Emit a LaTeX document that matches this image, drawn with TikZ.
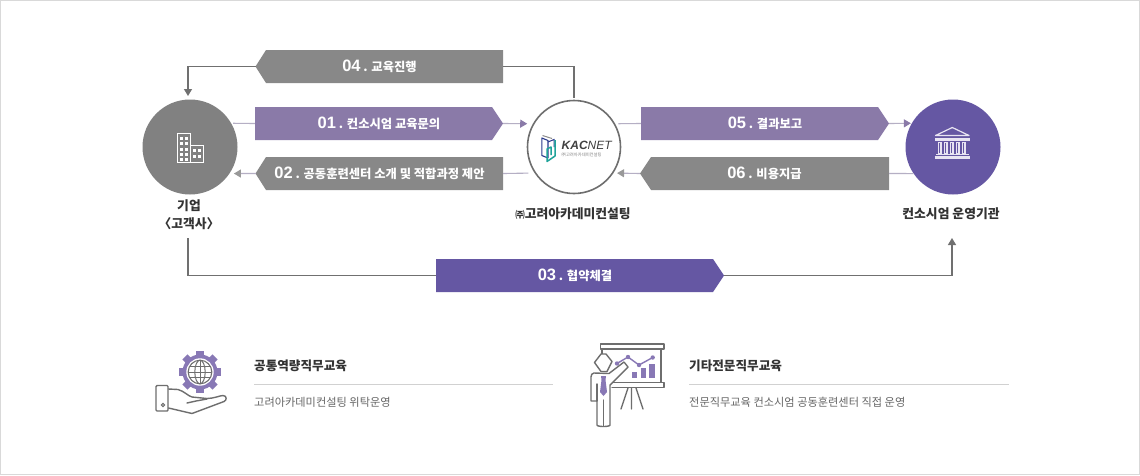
\documentclass[tikz,border=0pt]{standalone}
\usepackage{fontspec}
\setmainfont{Noto Sans CJK KR}
\newfontfamily\numfont{Liberation Sans}
\usetikzlibrary{arrows.meta,calc}
\definecolor{gbar}{HTML}{888888}
\definecolor{lil}{HTML}{8A7AA8}
\definecolor{deep}{HTML}{6557A3}
\definecolor{conn}{HTML}{B5AFC4}
\definecolor{dk}{HTML}{707070}
\definecolor{ico}{HTML}{6E6E6E}
\definecolor{icop}{HTML}{8878B5}
\definecolor{tw}{HTML}{E8E4F2}
\definecolor{lognavy}{HTML}{2B3A8C}
\definecolor{logteal}{HTML}{1FA39A}
\tikzset{
 banner/.style={inner sep=0pt,minimum width=#1,minimum height=33pt,text=white,font=\fontsize{12.3}{14}\selectfont\bfseries},
 thinline/.style={draw=conn,line width=1.1pt},
 gline/.style={draw=dk,line width=1.3pt},
 tipg/.style={-{Triangle[length=7pt,width=8pt]}},
 tipl/.style={-{Triangle[length=7pt,width=8pt,color=lil]}},
 tipa/.style={-{Triangle[length=7pt,width=8pt,color=gray!80]}},
 disc/.style={circle,minimum size=95pt,inner sep=0pt,outer sep=0pt},
 capt/.style={inner sep=0pt,text=black!80,align=center,font=\fontsize{12.8}{18}\selectfont\bfseries},
 htitle/.style={inner sep=0pt,anchor=west,text=black!80,font=\fontsize{12.6}{14}\selectfont\bfseries},
 hsub/.style={inner sep=0pt,anchor=west,text=black!60,font=\fontsize{11.2}{13}\selectfont},
 icoline/.style={draw=ico,line width=1.4pt,line join=round,line cap=round},
}
\newcommand{\nm}[1]{{\numfont\fontsize{16.5}{16}\selectfont\bfseries #1}}
\begin{document}
\begin{tikzpicture}[x=1pt,y=-1pt]
\useasboundingbox (0,0) rectangle (1140,475);
\draw[draw=black!15,fill=white,line width=1pt] (0.5,0.5) rectangle (1139.5,474.5);
% banners
\fill[gbar] (255.5,66.5)--(266,50)--(503,50)--(503,83)--(266,83)--cycle;
\fill[lil] (255,107)--(492,107)--(503,123.5)--(492,140)--(255,140)--cycle;
\fill[gbar] (255.5,173.5)--(266,157)--(503,157)--(503,190)--(266,190)--cycle;
\fill[lil] (641,107)--(878,107)--(889,123.5)--(878,140)--(641,140)--cycle;
\fill[gbar] (640,173.5)--(651,157)--(889,157)--(889,190)--(651,190)--cycle;
\fill[deep] (436,259)--(713,259)--(724,275.5)--(713,292)--(436,292)--cycle;
\node[banner=247pt] (b04) at (379.5,66.5) {\nm{04} . 교육진행};
\node[banner=248pt] (b01) at (379,123.5) {\nm{01} . 컨소시엄 교육문의};
\node[banner=247pt] (b02) at (379.5,173.5) {\nm{02} . 공동훈련센터 소개 및 적합과정 제안};
\node[banner=248pt] (b05) at (765,123.5) {\nm{05} . 결과보고};
\node[banner=249pt] (b06) at (764.5,173.5) {\nm{06} . 비용지급};
\node[banner=288pt] (b03) at (580,275.5) {\nm{03} . 협약체결\hspace*{10pt}};
% discs
\node[disc,fill=gbar!95!black] (c1) at (190,147) {};
\node[disc,draw=ico,line width=1.6pt,fill=white,minimum size=93pt] (c2) at (574,147) {};
\node[disc,fill=deep] (c3) at (953,147) {};
% captions
\node[capt] (t1) at (189,215) {기업\\〈고객사〉};
\node[capt] (t2) at (573,214) {{\fontsize{9.5}{10}\selectfont ㈜}고려아카데미컨설팅};
\node[capt] (t3) at (951,214) {컨소시엄 운영기관};
% connectors
\draw[thinline,shorten <=2pt] (c1.30) -- (b01.west);
\draw[thinline,tipl,shorten >=6.5pt] (b01.east) -- (c2.150);
\draw[thinline,shorten >=7pt] (b02.east) -- (c2.214);
\draw[thinline,tipa,shorten >=4.5pt] (b02.west) -- (c1.326);
\draw[thinline,shorten <=4pt] (c2.30) -- (b05.west);
\draw[thinline,tipl,shorten >=1pt] (b05.east) -- (c3.150);
\draw[thinline] (b06.east) -- (c3.214);
\draw[thinline,tipa,shorten >=4.5pt] (b06.west) -- (c2.326);
\coordinate (dn1) at (188,96);
\coordinate (up1) at (188,238);
\coordinate (up3) at (952,238);
\draw[gline,shorten <=3pt] (c2.north) |- (b04.east);
\draw[gline,tipg] (b04.west) -| (dn1);
\draw[gline] (up1) |- (b03.west);
\draw[gline,tipg] (b03.east) -| (up3);
% building icon
\draw[white,line width=1.1pt] (177.5,133.5) rectangle (190.5,162.5);
\draw[white,line width=1.1pt] (190.5,145.5) rectangle (203.5,162.5);
\foreach \y in {136.5,142,147.5,153,158.2} {\fill[white] (180,\y) rectangle +(3,3); \fill[white] (185,\y) rectangle +(3,3);}
\foreach \y in {149,154.5} {\fill[white] (193,\y) rectangle +(3.2,3); \fill[white] (198,\y) rectangle +(3.2,3);}
% temple icon
\draw[tw,line width=1.2pt,line join=round] (952.3,127.5)--(935.5,135.5)--(969,135.5)--cycle;
\fill[tw] (935,137.5) rectangle (969.5,140.5);
\foreach \x in {937.5,943.5,949.5,955.5,961.5} {\fill[tw] (\x,141.5) rectangle +(4,12); \fill[deep] (\x+1.2,142.5) rectangle +(1.6,10);}
\fill[tw] (936,153.5) rectangle (968.5,155.2);
\fill[tw] (934.5,155.8) rectangle (969.5,159);
% logo
\draw[black!45,line width=1pt] (542.5,135.5)--(552,138.5);
\draw[lognavy,line width=1.1pt,line join=round] (541.8,138)--(548,140.5)--(548,158)--(541.8,155.5)--cycle;
\draw[lognavy,line width=1pt] (548,142)--(554,139.5)--(554,147);
\draw[logteal,line width=1.5pt,line join=round] (555,140)--(555,156)--(547,161.5)--(547,149)--(551,147)--(551,155);
\node[inner sep=0pt,anchor=west,text=black!75] (lg1) at (561.5,145.5) {\numfont\fontsize{12}{14}\selectfont\bfseries\itshape KAC\textmd{NET}};
\node[inner sep=0pt,anchor=west,text=black!50] (lg2) at (561.5,155) {\fontsize{4.3}{5}\selectfont ㈜고려아카데미컨설팅};
% legend
\node[htitle] (h1) at (254,366) {공통역량직무교육};
\node[hsub] (s1) at (254,402) {고려아카데미컨설팅 위탁운영};
\node[htitle] (h2) at (689,366) {기타전문직무교육};
\node[hsub] (s2) at (689,402) {전문직무교육 컨소시엄 공동훈련센터 직접 운영};
\draw[black!18,line width=.8pt] (254,384.5)--(553,384.5);
\draw[black!18,line width=.8pt] (689,384.5)--(1009,384.5);
% gear + hand
\begin{scope}[shift={(200,372)}]
\foreach \a in {0,45,...,315} {\fill[icop,rotate=\a] (-3.6,-21.3) rectangle (3.6,-12);}
\fill[icop] (0,0) circle (17.5);
\fill[white] (0,0) circle (13.7);
\draw[draw=ico,line width=1.1pt] (0,0) circle (11.8);
\draw[draw=ico,line width=1pt] (0,0) ellipse (5.2 and 11.8);
\draw[draw=ico,line width=1pt] (0,-11.8)--(0,11.8) (-11.8,0)--(11.8,0);
\draw[draw=ico,line width=1pt] (-10.2,-5.5)--(10.2,-5.5) (-10.2,5.5)--(10.2,5.5);
\end{scope}
\draw[icoline,rounded corners=1pt] (156,385.5) rectangle (168,411);
\draw[icoline] (168.5,389) -- (178,389.5) .. controls (184,391) and (188,396) .. (192,397) -- (207,398.5) .. controls (214,398.5) and (220,395.5) .. (223,395.5) .. controls (227,395.5) and (227,400.5) .. (224,401.5) -- (192,413.5) -- (168.5,408);
\draw[icoline] (187,403) -- (196,401) -- (207,399);
\draw[draw=ico,line width=1pt] (163,405) circle (1.6);
% presenter
\draw[icoline] (600.5,344) rectangle (664,349);
\draw[icoline] (602,349.5)--(602,354) (661,349.5)--(661,382);
\draw[icoline] (612,382.5)--(664,382.5)--(664,387.5)--(612,387.5);
\draw[icoline] (628,388)--(621,409) (631.5,388)--(631.5,409) (636,388)--(643,409);
\draw[icop,line width=1.4pt] (617,363.5)--(628,357)--(639,365)--(652.7,357.5);
\foreach \x/\y in {617/363.5,628/357,639/365,652.7/357.5} {\fill[icop] (\x,\y) circle (2.2);}
\fill[icop] (632,371.5) rectangle (637,378);
\fill[icop] (640.5,367.5) rectangle (646,378);
\fill[icop] (649,364) rectangle (654.5,378);
\draw[icoline,fill=white] (601,354) -- (606,354) -- (612,361.5) -- (607,371.5) -- (601,371.5) -- (594.5,362.5) -- cycle;
\draw[icoline,fill=white] (594,373) .. controls (592,373) and (591,375) .. (591,377) -- (591,401) -- (597,401) -- (597,425) .. controls (597,427) and (610,427) .. (610,425) -- (610,385) -- (628,367) -- (624,362) -- (609,373.5) -- cycle;
\draw[icoline] (597,384)--(597,401) (603.5,400)--(603.5,426);
\fill[icop] (601,376) -- (606,376) -- (605.5,380) -- (607,392) -- (603.5,396) -- (600,392) -- (601.5,380) -- cycle;
\end{tikzpicture}
\end{document}
